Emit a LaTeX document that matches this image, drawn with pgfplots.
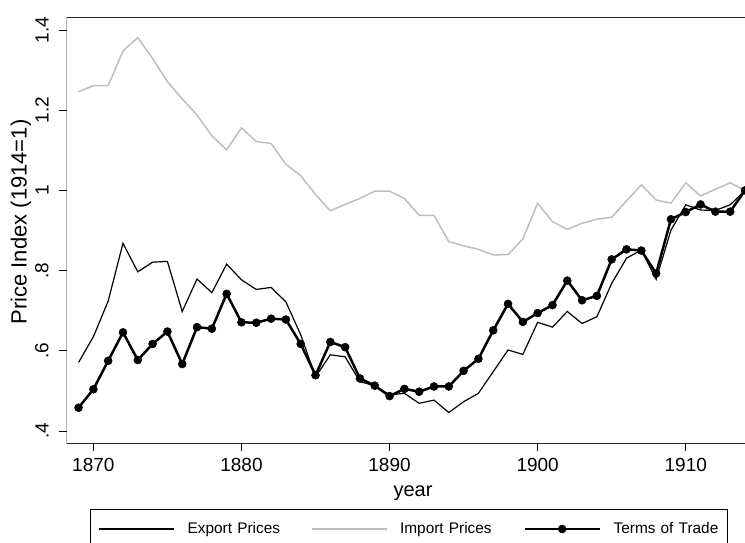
\documentclass[border=0pt]{standalone}
\usepackage{fontspec}
\setmainfont{Liberation Sans}
\usepackage{pgfplots}
\pgfplotsset{compat=1.18}
\definecolor{impgray}{RGB}{190,190,190}
\pgfplotsset{
  lineimg/.style={legend image code/.code={\draw[##1] (0pt,0pt) -- (75pt,0pt);}},
  markimg/.style={legend image code/.code={\draw[##1,mark repeat=2,mark phase=2] plot coordinates {(0pt,0pt) (37.5pt,0pt) (75pt,0pt)};}},
}
\begin{document}
\begin{tikzpicture}
\begin{axis}[
  at={(0pt,0pt)}, anchor=south west,
  scale only axis, width=678.3pt, height=425.6pt,
  xmin=1868.2, xmax=1914, ymin=0.3693, ymax=1.4307,
  axis line style={draw=none},
  xtick={1870,1880,1890,1900,1910},
  ytick={0.4,0.6,0.8,1,1.2,1.4},
  yticklabels={.4,.6,.8,1,1.2,1.4},
  xtick pos=bottom, ytick pos=left,
  tick align=outside, major tick length=8pt,
  tick style={black, line width=0.8pt},
  /pgf/number format/1000 sep={},
  /pgf/number format/assume math mode=true,
  ticklabel style={font=\fontsize{19}{22}\selectfont, inner sep=0pt},
  xticklabel style={anchor=north, yshift=-6.5pt},
  yticklabel style={rotate=90, anchor=south},
  yticklabel shift=10pt,
  xlabel={year},
  xlabel style={at={(axis description cs:0.5105,0)}, anchor=base, yshift=-53.4pt, font=\fontsize{20}{24}\selectfont},
  ylabel={Price Index (1914=1)},
  ylabel style={at={(axis description cs:-0.0674,0.52)}, anchor=center, font=\fontsize{22}{26}\selectfont},
  legend columns=3,
  legend style={at={(0.0344,-0.155)}, anchor=north west, draw=black, line width=0.8pt,
    inner xsep=8.3pt, inner ysep=13pt, font=\fontsize{15.4}{18}\selectfont,
    /tikz/every odd column/.style={column sep=12.7pt},
    /tikz/every even column/.style={column sep=18.3pt},
    nodes={inner sep=0pt, text width=105pt, align=left}},
  legend cell align=left,
]
\draw[line width=1.2pt, black!85] (rel axis cs:1,1) -- (rel axis cs:0,1) -- (rel axis cs:0,0) -- (rel axis cs:1,0);
\addplot[black, line width=1.2pt, no markers, lineimg] coordinates {
(1869,.571)(1870,.635)(1871,.724)(1872,.868)(1873,.797)(1874,.821)(1875,.823)(1876,.698)(1877,.779)(1878,.745)
(1879,.816)(1880,.777)(1881,.753)(1882,.758)(1883,.722)(1884,.640)(1885,.535)(1886,.590)(1887,.585)(1888,.523)
(1889,.513)(1890,.490)(1891,.494)(1892,.469)(1893,.477)(1894,.446)(1895,.473)(1896,.494)(1897,.548)(1898,.602)
(1899,.591)(1900,.671)(1901,.659)(1902,.698)(1903,.668)(1904,.685)(1905,.768)(1906,.831)(1907,.851)(1908,.778)
(1909,.901)(1910,.964)(1911,.951)(1912,.950)(1913,.964)(1914,1.0)};
\addlegendentry{Export Prices}
\addplot[impgray, line width=1.5pt, no markers, lineimg] coordinates {
(1869,1.246)(1870,1.261)(1871,1.261)(1872,1.348)(1873,1.381)(1874,1.329)(1875,1.271)(1876,1.228)(1877,1.188)(1878,1.136)
(1879,1.101)(1880,1.156)(1881,1.122)(1882,1.117)(1883,1.065)(1884,1.037)(1885,.990)(1886,.949)(1887,.965)(1888,.980)
(1889,.998)(1890,.998)(1891,.980)(1892,.938)(1893,.938)(1894,.872)(1895,.862)(1896,.853)(1897,.839)(1898,.840)
(1899,.879)(1900,.968)(1901,.922)(1902,.903)(1903,.918)(1904,.928)(1905,.933)(1906,.974)(1907,1.014)(1908,.976)
(1909,.968)(1910,1.019)(1911,.986)(1912,1.003)(1913,1.019)(1914,1.0)};
\addlegendentry{Import Prices}
\addplot[black, line width=2.5pt, mark=*, mark size=4pt, mark options={solid, line width=0.5pt}, markimg] coordinates {
(1869,.458)(1870,.504)(1871,.575)(1872,.646)(1873,.577)(1874,.617)(1875,.648)(1876,.567)(1877,.659)(1878,.655)
(1879,.742)(1880,.671)(1881,.670)(1882,.680)(1883,.678)(1884,.617)(1885,.539)(1886,.622)(1887,.609)(1888,.531)
(1889,.513)(1890,.487)(1891,.505)(1892,.498)(1893,.511)(1894,.511)(1895,.550)(1896,.580)(1897,.651)(1898,.717)
(1899,.672)(1900,.694)(1901,.714)(1902,.775)(1903,.726)(1904,.737)(1905,.828)(1906,.853)(1907,.850)(1908,.793)
(1909,.928)(1910,.946)(1911,.965)(1912,.947)(1913,.947)(1914,1.0)};
\addlegendentry{Terms of Trade}
\end{axis}
\pgfresetboundingbox
\path (-66.7pt,-99.7pt) rectangle (678.3pt,443.3pt);
\end{tikzpicture}
\end{document}
